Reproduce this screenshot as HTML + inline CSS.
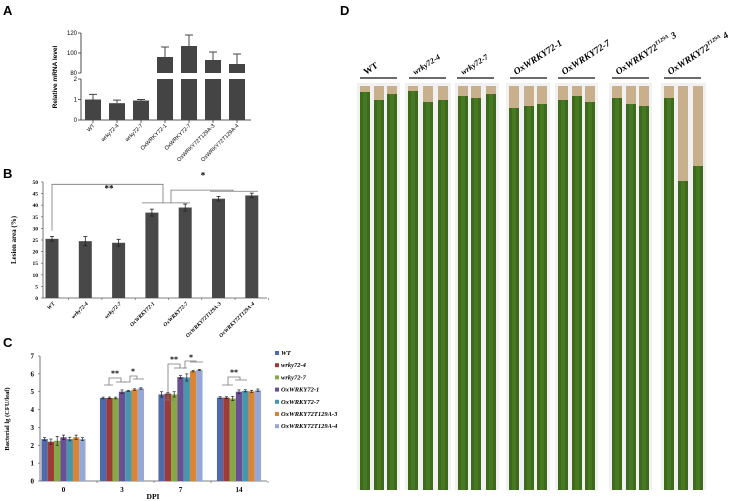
<!DOCTYPE html>
<html><head><meta charset="utf-8"><style>
body{margin:0;background:#fff;width:744px;height:501px;overflow:hidden;font-family:"Liberation Serif",serif}
svg{position:absolute;left:0;top:0}
</style></head><body>
<svg id="fig" width="744" height="501" xmlns="http://www.w3.org/2000/svg"></svg>
<script>
// Panel A data
const aCats=["WT","wrky72-4","wrky72-7","OxWRKY72-1","OxWRKY72-7","OxWRKY72T129A-3","OxWRKY72T129A-4"];
const aVals=[1.0,0.82,0.95,96,107,93,89];
const aErr=[0.25,0.15,0.05,10,11,8,10];
// Panel B data
const bCats=["WT","wrky72-4","wrky72-7","OxWRKY72-1","OxWRKY72-7","OxWRKY72T129A-3","OxWRKY72T129A-4"];
const bVals=[25.5,24.5,23.8,36.8,39,42.8,44.2];
const bErr=[1,2,1.5,1.5,1.5,1,1];
const bTicks=[0,5,10,15,20,25,30,35,40,45,50];
// Panel C data
const cDays=["0","3","7","14"];
const cSeries=["WT","wrky72-4","wrky72-7","OxWRKY72-1","OxWRKY72-7","OxWRKY72T129A-3","OxWRKY72T129A-4"];
const cVals=[[2.35,4.65,4.85,4.67],[2.2,4.65,4.9,4.67],[2.25,4.65,4.85,4.62],[2.45,5.0,5.82,5.0],[2.35,5.05,5.8,5.05],[2.45,5.12,6.15,5.02],[2.35,5.18,6.22,5.08]];
const cErr=[[0.08,0.05,0.15,0.05],[0.15,0.05,0.06,0.05],[0.25,0.05,0.15,0.12],[0.12,0.1,0.08,0.1],[0.1,0.03,0.2,0.06],[0.12,0.04,0.04,0.06],[0.08,0.04,0.03,0.07]];
const cTicks=[0,1,2,3,4,5,6,7];
const cColors=["#4F6AA8","#9E3B38","#86A845","#6B4F93","#4796AD","#D88535","#96A8D6"];
// Panel D
const dLabels=["WT","wrky72-4","wrky72-7","OxWRKY72-1","OxWRKY72-7","OxWRKY72T129A-3","OxWRKY72T129A-4"];
const dBrown=[[6,14,8],[5,16,14],[10,12,8],[22,20,18],[14,10,16],[12,18,20],[12,95,80]];

const S=document.getElementById('fig');const NS="http://www.w3.org/2000/svg";
function el(t,a,p){const e=document.createElementNS(NS,t);for(const k in a)e.setAttribute(k,a[k]);(p||S).appendChild(e);return e;}
function tx(x,y,s,a,p){const e=el('text',Object.assign({x:x,y:y},a),p);e.textContent=s;return e;}

[["A",3,15],["B",3,178],["C",3,347],["D",340,15]].forEach(l=>{const t=tx(l[1],l[2],l[0],{'font-family':'Liberation Sans,sans-serif','font-weight':'bold','font-size':13});});

// ---- Panel A ----
const gA=el('g',{});
const aX0=81,aBase=120;
function aY(v){return v<=2? aBase - v*20.5 : 73-(v-80)*1.0;}
el('line',{x1:aX0,y1:33,x2:aX0,y2:73,stroke:'#222','stroke-width':0.8},gA);
el('line',{x1:aX0,y1:79,x2:aX0,y2:aBase,stroke:'#222','stroke-width':0.8},gA);
el('line',{x1:aX0,y1:aBase,x2:251,y2:aBase,stroke:'#222','stroke-width':0.8},gA);
[[120,0],[100,0],[80,0],[2,1],[1,1],[0,1]].forEach(t=>{const y=aY(t[0]);el('line',{x1:aX0-3,y1:y,x2:aX0,y2:y,stroke:'#222','stroke-width':0.7},gA);tx(aX0-4,y+2,t[0],{'font-family':'Liberation Sans,sans-serif','font-size':6,'text-anchor':'end'},gA);});
const ay=tx(0,0,"Relative mRNA level",{'font-family':'Liberation Sans,sans-serif','font-size':6.5,'font-weight':'bold','text-anchor':'middle',transform:'translate(57,77) rotate(-90)'},gA);

aCats.forEach((c,i)=>{const cx=93+i*24,v=aVals[i],w=16;
 if(v<=2){el('rect',{x:cx-w/2,y:aY(v),width:w,height:aBase-aY(v),fill:'#444'},gA);}
 else{const r1=el('rect',{x:cx-w/2,y:79,width:w,height:aBase-79,fill:'#444'},gA);
   el('rect',{x:cx-w/2,y:aY(v),width:w,height:73-aY(v),fill:'#444'},gA);}
 const ye=aY(v+aErr[i]);el('line',{x1:cx,y1:aY(v),x2:cx,y2:ye,stroke:'#444','stroke-width':1},gA);el('line',{x1:cx-4,y1:ye,x2:cx+4,y2:ye,stroke:'#444','stroke-width':1},gA);
 el('line',{x1:cx,y1:aBase,x2:cx,y2:aBase+3,stroke:'#222','stroke-width':0.7},gA);
 tx(0,0,c,{'font-family':'Liberation Sans,sans-serif','font-size':5.5,'text-anchor':'end',transform:`translate(${cx+2},${aBase+6}) rotate(-45)`},gA);
});

// ---- Panel B ----
const gB=el('g',{});
const bX0=43,bBase=298,bTop=182;function bY(v){return bBase-(v/50)*(bBase-bTop);}
el('line',{x1:bX0,y1:bTop,x2:bX0,y2:bBase,stroke:'#555','stroke-width':0.8},gB);
el('line',{x1:bX0,y1:bBase,x2:267,y2:bBase,stroke:'#555','stroke-width':0.8},gB);
bTicks.forEach(t=>{const y=bY(t);el('line',{x1:bX0-2,y1:y,x2:bX0,y2:y,stroke:'#555','stroke-width':0.6},gB);tx(bX0-5,y+2,t,{'font-size':5.5,'text-anchor':'end','font-weight':'bold'},gB);});
const by=tx(0,0,"Lesion area (%)",{'font-size':7,'font-weight':'bold','text-anchor':'middle',transform:'translate(16,240) rotate(-90)'},gB);

bCats.forEach((c,i)=>{const cx=52+i*33.3,v=bVals[i],w=13;
 const r=el('rect',{x:cx-w/2,y:bY(v),width:w,height:bBase-bY(v),fill:'#484848'},gB);
 const y1=bY(v+bErr[i]),y2=bY(v-bErr[i]);el('line',{x1:cx,y1:y1,x2:cx,y2:y2,stroke:'#222','stroke-width':0.8},gB);
 [y1,y2].forEach(y=>el('line',{x1:cx-2,y1:y,x2:cx+2,y2:y,stroke:'#222','stroke-width':0.8},gB));
 el('line',{x1:cx+16.6,y1:bBase,x2:cx+16.6,y2:bBase+2,stroke:'#555','stroke-width':0.6},gB);
 tx(0,0,c,{'font-size':5.5,'font-weight':'bold','font-style':'italic','text-anchor':'end',transform:`translate(${cx+3},${bBase+6}) rotate(-45)`},gB);
});
const br='#777';
[[bX0+9,bY(29),bX0+9,bY(49),163,bY(49),163,bY(41)],[142,bY(41),190,bY(41)],[171,bY(41),171,bY(46.5),233,bY(46.5),233,bY(46)],[210,bY(46),258,bY(46)]].forEach(p=>{let d='M'+p[0]+' '+p[1];for(let k=2;k<p.length;k+=2)d+=' L'+p[k]+' '+p[k+1];el('path',{d:d,fill:'none',stroke:br,'stroke-width':0.8},gB);});
tx(109,bY(46),"**",{'font-size':9,'font-weight':'bold','text-anchor':'middle'},gB);
tx(203,bY(51.5),"*",{'font-size':9,'font-weight':'bold','text-anchor':'middle'},gB);

// ---- Panel C ----
const gC=el('g',{});
const cX0=40,cBase=481,cTop=356;function cY(v){return cBase-(v/7)*(cBase-cTop);}
el('line',{x1:cX0,y1:cTop,x2:cX0,y2:cBase,stroke:'#555','stroke-width':0.8},gC);
el('line',{x1:cX0,y1:cBase,x2:267,y2:cBase,stroke:'#555','stroke-width':0.8},gC);
cTicks.forEach(t=>{const y=cY(t);el('line',{x1:cX0-2,y1:y,x2:cX0,y2:y,stroke:'#555','stroke-width':0.6},gC);tx(cX0-6,y+2.5,t,{'font-size':7,'text-anchor':'end','font-weight':'bold'},gC);});
const cy=tx(0,0,"Bacterial lg (CFU/leaf)",{'font-size':6.5,'font-weight':'bold','text-anchor':'middle',transform:'translate(9,419) rotate(-90)'},gC);

const cx0=tx(153,499,"DPI",{'font-size':7.5,'font-weight':'bold','text-anchor':'middle'},gC);
const gw=57;
cDays.forEach((d,j)=>{const gc=40+gw*(j+0.5)-5+(j*1.5);
 tx(gc,492,d,{'font-size':7,'font-weight':'bold','text-anchor':'middle'},gC);
 el('line',{x1:40+gw*(j+1),y1:cBase,x2:40+gw*(j+1),y2:cBase+2,stroke:'#555','stroke-width':0.6},gC);
 cSeries.forEach((s,i)=>{const bw=6.3,x=gc+(i-3.5)*bw,v=cVals[i][j],e=cErr[i][j];
  const r=el('rect',{x:x,y:cY(v),width:bw,height:cBase-cY(v),fill:cColors[i]},gC);
  const m=x+bw/2;el('line',{x1:m,y1:cY(v+e),x2:m,y2:cY(v-e),stroke:'#222','stroke-width':0.7},gC);
  [cY(v+e),cY(v-e)].forEach(y=>el('line',{x1:m-1.5,y1:y,x2:m+1.5,y2:y,stroke:'#222','stroke-width':0.7},gC));
 });
});
[["M104 385 L113 385 M109 385 L109 378 L121 378 L121 382 M116 382 L126 382","**",115,376],["M124 382 L130 382 L130 376 L137 376 L137 379 M133 379 L144 379","*",133,374],
 ["M162 400 L174 400 M168 400 L168 364 L180 364 L180 368 M174 368 L187 368","**",174,362],["M183 368 L185 368 L185 361 L196 361 L196 362 M190 362 L203 362","*",191,360],
 ["M222 385 L233 385 M228 385 L228 377 L240 377 L240 380 M235 380 L247 380","**",234,375]].forEach(b=>{el('path',{d:b[0],fill:'none',stroke:'#777','stroke-width':0.8},gC);tx(b[2],b[3],b[1],{'font-size':8,'font-weight':'bold','text-anchor':'middle'},gC);});
const gL=el('g',{});
cSeries.forEach((s,i)=>{const y=355+i*12.2;const g=el('g',{},gL);
 el('rect',{x:275,y:y-4,width:4,height:4,fill:cColors[i]},g);tx(281,y,s,{'font-size':6.5,'font-weight':'bold','font-style':'italic'},g);});

// ---- Panel D ----
const gD=el('g',{});
const centers=[[365,379,392],[413,428,443],[463,476,491],[514,529,542],[563,577,590],[617,631,644],[669,683,698]];
centers.forEach(c=>el('rect',{x:c[0]-8,y:83,width:c[2]-c[0]+16,height:407,fill:'#f1f1f1'},gD));
dLabels.forEach((l,i)=>{const c=centers[i][1];
 el('line',{x1:c-19,y1:78,x2:c+18,y2:78,stroke:'#111','stroke-width':1.3},gD);
 const m=l.match(/^(OxWRKY72)T129A(-\d)$/);
 const t=el('text',{'font-size':i>2?9.5:(i==0?9:8),'font-weight':'bold','font-style':i==0?'normal':'italic','text-anchor':'start',transform:`translate(${c-13},${75}) rotate(-33)`},gD);
 
 if(m){t.textContent=m[1];const sp=el('tspan',{'font-size':5.5,dy:-4},t);sp.textContent='T129A';const sp2=el('tspan',{dy:4},t);sp2.textContent=' '+m[2].replace('-','');}
 else t.textContent=l;
 centers[i].forEach((x,k)=>{const b=dBrown[i][k];const top=86;
  const g=el('g',{},gD);
  el('rect',{x:x-5,y:top,width:10,height:490-top,fill:'#3d6a1c'},g);
  el('rect',{x:x-2,y:top,width:4,height:490-top,fill:'#4f8226',opacity:0.6},g);
  el('rect',{x:x-5,y:top,width:10,height:b,fill:'#c9b08c'},g);
 });
});
</script>
</body></html>
